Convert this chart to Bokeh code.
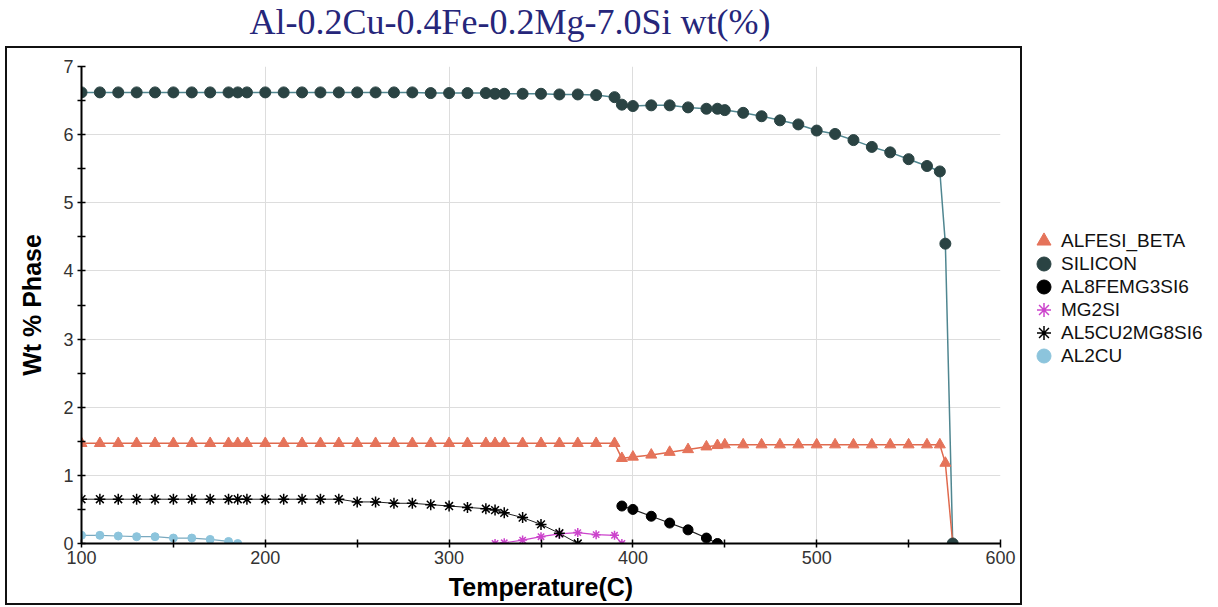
from bokeh.plotting import figure
from bokeh.models import Div, Legend, LegendItem, FixedTicker
from bokeh.layouts import column, row
from bokeh.embed import file_html
from bokeh.resources import INLINE

title_text = "Al-0.2Cu-0.4Fe-0.2Mg-7.0Si wt(%)"
x_label = "Temperature(C)"
y_label = "Wt % Phase"
x_ticks = [100, 200, 300, 400, 500, 600]
y_ticks = [0, 1, 2, 3, 4, 5, 6, 7]

# SILICON
t_silicon = [100, 110, 120, 130, 140, 150, 160, 170, 180, 185, 190, 200, 210, 220, 230, 240,
             250, 260, 270, 280, 290, 300, 310, 320, 325, 330, 340, 350, 360, 370, 380, 390,
             394, 400, 410, 420, 430, 440, 446, 450, 460, 470, 480, 490, 500, 510, 520, 530,
             540, 550, 560, 567, 570, 574]
silicon = [6.62, 6.62, 6.62, 6.62, 6.62, 6.62, 6.62, 6.62, 6.62, 6.62, 6.62, 6.62, 6.62, 6.62, 6.62, 6.62,
           6.62, 6.62, 6.62, 6.62, 6.61, 6.61, 6.61, 6.61, 6.60, 6.60, 6.60, 6.60, 6.59, 6.59, 6.58, 6.55,
           6.44, 6.42, 6.43, 6.43, 6.40, 6.38, 6.38, 6.36, 6.32, 6.27, 6.21, 6.15, 6.06, 6.01, 5.92, 5.82,
           5.74, 5.64, 5.54, 5.46, 4.40, 0.0]

# ALFESI_BETA
t_alfesi = t_silicon
alfesi = [1.47, 1.47, 1.47, 1.47, 1.47, 1.47, 1.47, 1.47, 1.47, 1.47, 1.47, 1.47, 1.47, 1.47, 1.47, 1.47,
          1.47, 1.47, 1.47, 1.47, 1.47, 1.47, 1.47, 1.47, 1.47, 1.47, 1.47, 1.47, 1.47, 1.47, 1.47, 1.47,
          1.25, 1.27, 1.30, 1.34, 1.38, 1.42, 1.44, 1.45, 1.45, 1.45, 1.45, 1.45, 1.45, 1.45, 1.45, 1.45,
          1.45, 1.45, 1.45, 1.45, 1.18, 0.0]

# AL8FEMG3SI6
t_al8 = [394, 400, 410, 420, 430, 440, 446]
al8 = [0.55, 0.50, 0.40, 0.30, 0.20, 0.08, 0.0]

# MG2SI
t_mg2si = [325, 330, 340, 350, 360, 370, 380, 390, 394]
mg2si = [0.0, 0.01, 0.05, 0.10, 0.14, 0.16, 0.13, 0.12, 0.0]

# AL5CU2MG8SI6
t_al5 = [100, 110, 120, 130, 140, 150, 160, 170, 180, 185, 190, 200, 210, 220, 230, 240,
         250, 260, 270, 280, 290, 300, 310, 320, 325, 330, 340, 350, 360, 370]
al5 = [0.65, 0.65, 0.65, 0.65, 0.65, 0.65, 0.65, 0.65, 0.65, 0.65, 0.65, 0.65, 0.65, 0.65, 0.65, 0.65,
       0.61, 0.61, 0.59, 0.59, 0.57, 0.55, 0.53, 0.51, 0.49, 0.45, 0.38, 0.28, 0.15, 0.0]

# AL2CU
t_al2cu = [100, 110, 120, 130, 140, 150, 160, 170, 180, 185]
al2cu = [0.12, 0.12, 0.11, 0.10, 0.10, 0.08, 0.08, 0.06, 0.03, 0.0]

legend_names = ["ALFESI_BETA", "SILICON", "AL8FEMG3SI6", "MG2SI", "AL5CU2MG8SI6", "AL2CU"]

FONT = "Liberation Sans"

p = figure(width=1017, height=559, x_range=(100, 600), y_range=(0, 7),
           output_backend="svg", toolbar_location=None,
           min_border_left=74, min_border_right=24, min_border_top=18, min_border_bottom=64,
           outline_line_color=None, margin=(0, 0, 0, 5),
           styles={"border": "2px solid #111111"})

p.xaxis.ticker = FixedTicker(ticks=x_ticks, minor_ticks=[150, 250, 350, 450, 550])
p.yaxis.ticker = FixedTicker(ticks=y_ticks, minor_ticks=[0.5, 1.5, 2.5, 3.5, 4.5, 5.5, 6.5])
p.xgrid.ticker = FixedTicker(ticks=x_ticks)
p.ygrid.ticker = FixedTicker(ticks=y_ticks)
p.grid.grid_line_color = "#dddddd"
p.grid.grid_line_width = 1

for ax in (p.xaxis[0], p.yaxis[0]):
    ax.axis_line_color = "#000000"
    ax.axis_line_width = 2
    ax.major_tick_line_color = "#000000"
    ax.minor_tick_line_color = "#000000"
    ax.major_tick_line_width = 1.5
    ax.minor_tick_line_width = 1.5
    ax.major_tick_in = 4
    ax.major_tick_out = 4
    ax.minor_tick_in = 4
    ax.minor_tick_out = 4
    ax.major_label_text_font = FONT
    ax.major_label_text_font_size = "18px"
    ax.major_label_text_color = "#333333"
    ax.axis_label_text_font = FONT
    ax.axis_label_text_font_size = "25px"
    ax.axis_label_text_font_style = "bold"
    ax.axis_label_text_color = "#000000"

p.xaxis.axis_label = x_label
p.yaxis.axis_label = y_label
p.xaxis.major_label_standoff = 3
p.xaxis.axis_label_standoff = 6
p.yaxis.major_label_standoff = 4
p.yaxis.axis_label_standoff = 14

c_alfesi = "#e5735a"
c_alfesi_line = "#e06a4e"
c_si = "#2a4343"
c_si_line = "#4f8690"
c_al8 = "#000000"
c_mg = "#cc44cc"
c_al5 = "#000000"
c_al2cu = "#8cc4dc"
c_al2cu_line = "#7aa9bf"

# lines
p.line(t_silicon, silicon, line_color=c_si_line, line_width=1.5)
p.line(t_alfesi, alfesi, line_color=c_alfesi_line, line_width=1.5)
p.line(t_al8, al8, line_color="#222222", line_width=1.2)
p.line(t_mg2si, mg2si, line_color=c_mg, line_width=1.2)
p.line(t_al5, al5, line_color="#222222", line_width=1.0)
p.line(t_al2cu, al2cu, line_color=c_al2cu_line, line_width=1.2)

# markers
p.scatter(t_alfesi, alfesi, marker="triangle", size=11, fill_color=c_alfesi, line_color=c_alfesi)
p.scatter(t_silicon, silicon, marker="circle", size=11, fill_color=c_si, line_color=c_si)
p.scatter(t_al8, al8, marker="circle", size=10, fill_color=c_al8, line_color=c_al8)
p.scatter(t_mg2si, mg2si, marker="asterisk", size=9, line_color=c_mg, line_width=1.5)
p.scatter(t_al5, al5, marker="asterisk", size=11, line_color=c_al5, line_width=1.5)
p.scatter(t_al2cu, al2cu, marker="circle", size=8, fill_color=c_al2cu, line_color=c_al2cu)

# legend panel (glyph samples placed outside the visible range)
lg = figure(width=190, height=559, x_range=(0, 1), y_range=(0, 1),
            x_axis_type=None, y_axis_type=None, output_backend="svg",
            toolbar_location=None, min_border=0, outline_line_color=None)
out = [-10]
r1 = lg.scatter(out, out, marker="triangle", fill_color=c_alfesi, line_color=c_alfesi)
r2 = lg.scatter(out, out, marker="circle", fill_color=c_si, line_color=c_si)
r3 = lg.scatter(out, out, marker="circle", fill_color=c_al8, line_color=c_al8)
r4 = lg.scatter(out, out, marker="asterisk", line_color=c_mg, line_width=1.5)
r5 = lg.scatter(out, out, marker="asterisk", line_color=c_al5, line_width=1.5)
r6 = lg.scatter(out, out, marker="circle", fill_color=c_al2cu, line_color=c_al2cu)
renderers = [r1, r2, r3, r4, r5, r6]

legend_style = dict(border_line_color=None, background_fill_alpha=0,
                    label_text_font=FONT, label_text_font_size="19px", label_text_color="#111111",
                    glyph_width=35, glyph_height=35, label_height=35, spacing=11, padding=2,
                    label_standoff=0, margin=0)
# two interleaved legends so that the large legend glyphs keep a tight row pitch
legend_a = Legend(items=[LegendItem(label=legend_names[i], renderers=[renderers[i]]) for i in (0, 2, 4)],
                  location=(4, 191), **legend_style)
legend_b = Legend(items=[LegendItem(label=legend_names[i], renderers=[renderers[i]]) for i in (1, 3, 5)],
                  location=(4, 168), **legend_style)
lg.add_layout(legend_a)
lg.add_layout(legend_b)

title_div = Div(text=title_text, width=1010, height=46, margin=(0, 0, 0, 5),
                styles={"font-family": "Liberation Serif", "font-size": "36px",
                        "color": "#26267a", "text-align": "center", "line-height": "44px",
                        "width": "1010px"})

layout = column(title_div, row(p, lg, spacing=0), spacing=0)

open("out.html", "w").write(file_html(layout, INLINE))
